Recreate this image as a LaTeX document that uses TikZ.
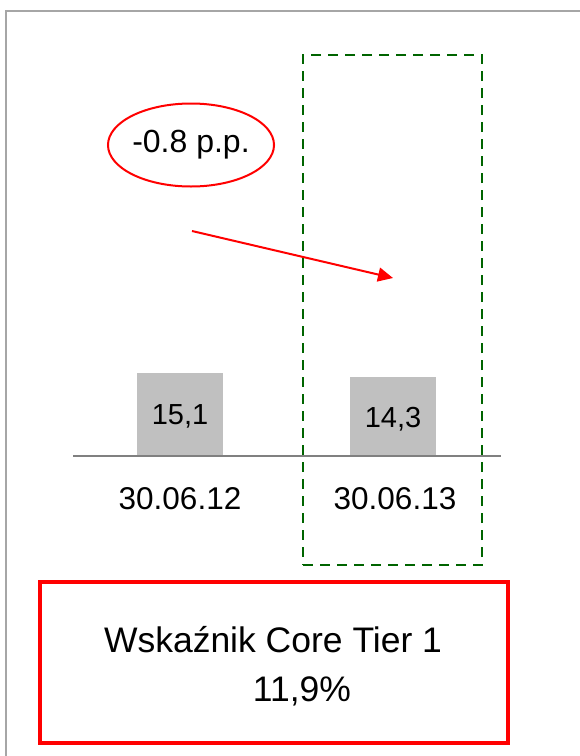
\documentclass[tikz,border=0pt]{standalone}
\usepackage{fontspec}
\setmainfont{Liberation Sans}
\usetikzlibrary{shapes.geometric,arrows.meta}
\definecolor{framegray}{HTML}{A6A6A6}
\definecolor{bargray}{HTML}{C0C0C0}
\definecolor{axisgray}{HTML}{808080}
\definecolor{dkgreen}{HTML}{006400}
\tikzset{
  bar/.style={fill=bargray,draw=none,minimum width=86pt,anchor=south,inner sep=0pt},
  val/.style={font=\fontsize{29}{32}\selectfont},
  datelbl/.style={font=\fontsize{31.5}{34}\selectfont},
}
\begin{document}
\begin{tikzpicture}[x=1pt,y=-1pt]
\useasboundingbox (0,0) rectangle (580,756);
% outer frame
\coordinate (f1) at (6,756);
\coordinate (f2) at (6,11);
\coordinate (f3) at (580,11);
\draw[framegray,line width=2.5pt] (f1) -- (f2) -- (f3);
% green dashed box
\node[draw=dkgreen,dash pattern=on 10pt off 7pt,line width=2.6pt,minimum width=179pt,minimum height=510pt,inner sep=0pt] (grp) at (392.5,310) {};
% bars
\node[bar,minimum height=83pt] (b1) at (180,456) {};
\node[bar,minimum height=79pt] (b2) at (393,456) {};
\node[val] (v1) at (180,416) {15,1};
\node[val] (v2) at (393,419) {14,3};
% axis
\coordinate (a1) at (73,456);
\coordinate (a2) at (501,456);
\draw[axisgray,line width=1.8pt] (a1) -- (a2);
% dates
\node[datelbl] (d1) at (180,499) {30.06.12};
\node[datelbl] (d2) at (395,499) {30.06.13};
% ellipse
\node[ellipse,draw=red,line width=2pt,minimum width=154pt,minimum height=83pt,inner sep=0pt,font=\fontsize{32}{35}\selectfont] (el) at (191,145) {-0.8 p.p.};
% arrow
\coordinate (ar1) at (192,231);
\coordinate (ar2) at (393,278);
\draw[red,line width=2pt,-{Triangle[length=15pt,width=14pt]}] (ar1) -- (ar2);
% bottom box
\node[draw=red,line width=3.5pt,minimum width=468pt,minimum height=161pt,inner sep=0pt] (box) at (274,662.5) {};
\node[font=\fontsize{35.5}{40}\selectfont] (t1) at (273,640) {Wskaźnik Core Tier 1};
\node[font=\fontsize{35.5}{40}\selectfont] (t2) at (302,691) {11,9\%};
\end{tikzpicture}
\end{document}
